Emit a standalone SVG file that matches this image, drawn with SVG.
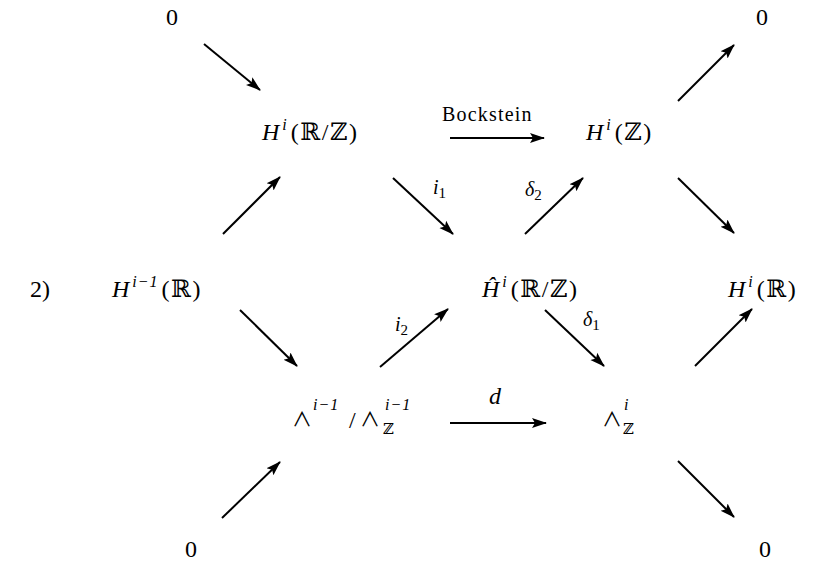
<svg xmlns="http://www.w3.org/2000/svg" width="825" height="561" viewBox="0 0 825 561">
<defs>
<marker id="ah" markerUnits="userSpaceOnUse" markerWidth="16" markerHeight="12" refX="14" refY="6" orient="auto">
<path d="M0,1 L15,6 L0,11 L3,6 z" fill="#000"/>
</marker>
<style>
text { font-family: "Liberation Serif","DejaVu Serif",serif; font-size:24px; fill:#000 }
.it { font-style: italic }
.sup { font-size:16px; font-style: italic }
.sub { font-size:15px }
.lbl { font-size:20px; letter-spacing:1.2px }
.par { letter-spacing:1.5px }
.wedge { font-family: "Noto Sans CJK JP","DejaVu Sans",sans-serif; font-weight:400; font-size:20px }
.arr line { stroke:#000; stroke-width:2; marker-end:url(#ah) }
</style>
</defs>
<rect width="825" height="561" fill="#fff"/>

<g id="connectors" class="arr">
<line x1="204" y1="44" x2="260" y2="90"/>
<line x1="223" y1="234" x2="280" y2="177"/>
<line x1="393" y1="178" x2="453" y2="234"/>
<line x1="450" y1="138" x2="544" y2="138"/>
<line x1="525" y1="234" x2="583" y2="178"/>
<line x1="678" y1="101" x2="734" y2="45"/>
<line x1="678" y1="178" x2="734" y2="233"/>
<line x1="240" y1="310" x2="297" y2="366"/>
<line x1="380" y1="367" x2="448" y2="309"/>
<line x1="545" y1="310" x2="604" y2="366"/>
<line x1="450" y1="423" x2="546" y2="423"/>
<line x1="695" y1="366" x2="752" y2="309"/>
<line x1="222" y1="518" x2="280" y2="462"/>
<line x1="678" y1="461" x2="734" y2="517"/>
</g>

<g id="labels">
<text class="lbl" x="442" y="121">Bockstein</text>
<text x="433" y="194"><tspan class="it" font-size="20">i</tspan><tspan class="sub" dy="4">1</tspan></text>
<text x="525" y="196"><tspan class="it" font-size="20">δ</tspan><tspan class="sub" dy="4">2</tspan></text>
<text x="395" y="331"><tspan class="it" font-size="20">i</tspan><tspan class="sub" dy="4">2</tspan></text>
<text x="583" y="326"><tspan class="it" font-size="20">δ</tspan><tspan class="sub" dy="4">1</tspan></text>
<text class="it" x="489" y="404" font-size="20">d</text>
</g>

<g id="n-0-tl"><text x="172" y="25" text-anchor="middle">0</text></g>
<g id="n-0-tr"><text x="762" y="25" text-anchor="middle">0</text></g>
<g id="n-0-bl"><text x="191" y="557" text-anchor="middle">0</text></g>
<g id="n-0-br"><text x="765" y="557" text-anchor="middle">0</text></g>
<g id="n-label"><text x="30" y="297">2)</text></g>

<g id="n-HiRZ"><text x="262" y="140"><tspan class="it">H</tspan><tspan class="sup" dy="-10" dx="3">i</tspan><tspan class="par" dy="10" dx="4">(ℝ/ℤ)</tspan></text></g>
<g id="n-HiZ"><text x="586" y="140"><tspan class="it">H</tspan><tspan class="sup" dy="-10" dx="3">i</tspan><tspan class="par" dy="10" dx="4">(ℤ)</tspan></text></g>
<g id="n-Hi1R"><text x="112" y="297"><tspan class="it">H</tspan><tspan class="sup" dy="-10" dx="3" letter-spacing="1">i−1</tspan><tspan class="par" dy="10" dx="3">(ℝ)</tspan></text></g>
<g id="n-HhatRZ"><text x="482" y="297"><tspan class="it">Ĥ</tspan><tspan class="sup" dy="-10" dx="3">i</tspan><tspan class="par" dy="10" dx="4">(ℝ/ℤ)</tspan></text></g>
<g id="n-HiR"><text x="728" y="297"><tspan class="it">H</tspan><tspan class="sup" dy="-10" dx="3">i</tspan><tspan class="par" dy="10" dx="4">(ℝ)</tspan></text></g>

<g id="n-wedge-quot">
<text class="wedge" x="292" y="427">∧</text>
<text class="sup" x="313" y="410" letter-spacing="1">i−1</text>
<text x="349" y="428">/</text>
<text class="wedge" x="360" y="427">∧</text>
<text class="sup" x="385" y="410" letter-spacing="1">i−1</text>
<text class="sub" x="383" y="434">ℤ</text>
</g>
<g id="n-wedgeZ">
<text class="wedge" x="602" y="427">∧</text>
<text class="sup" x="624" y="410">i</text>
<text class="sub" x="623" y="434">ℤ</text>
</g>
</svg>
